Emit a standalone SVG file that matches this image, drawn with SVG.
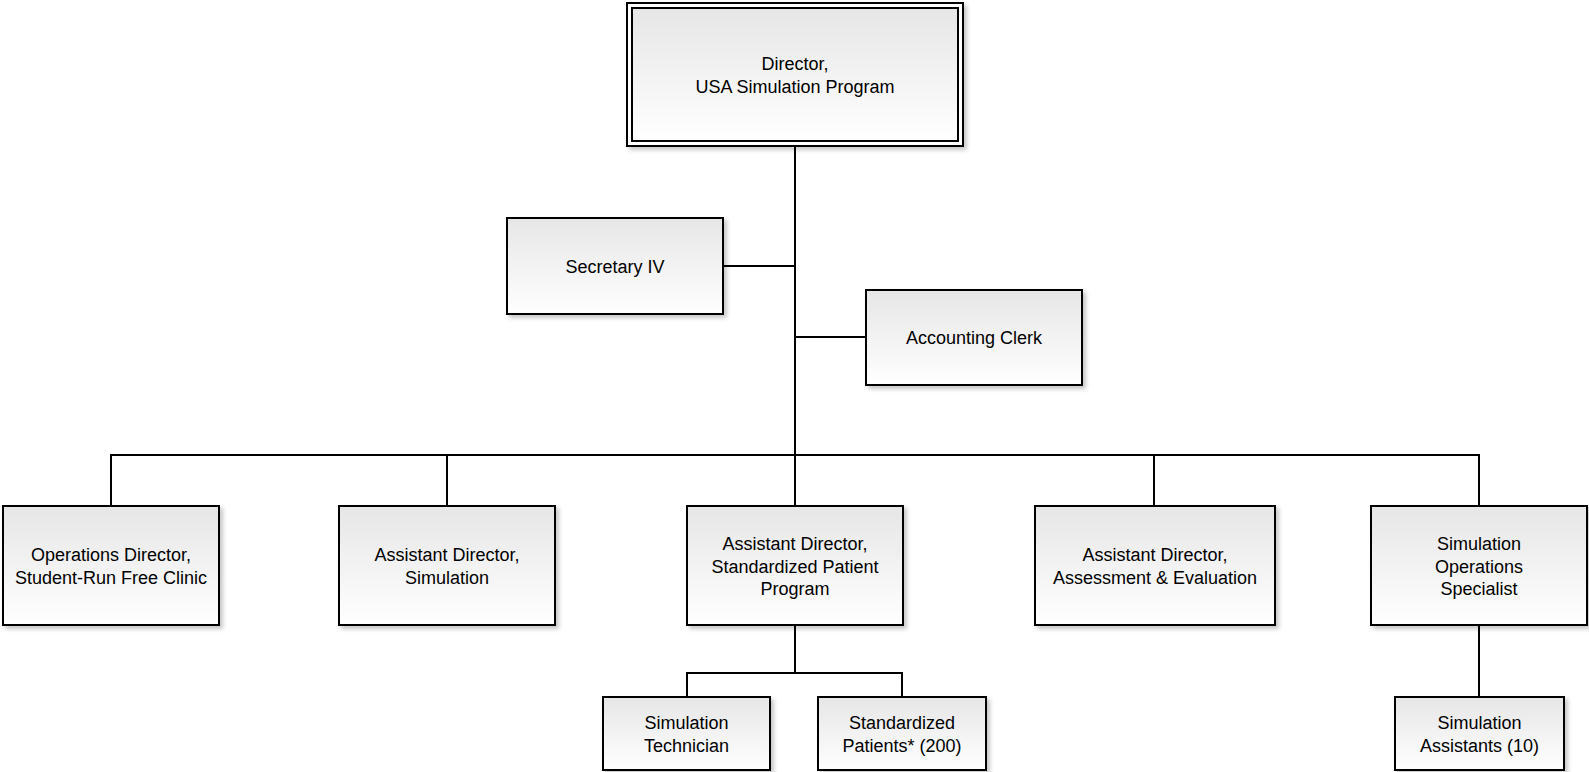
<svg xmlns="http://www.w3.org/2000/svg" width="1589" height="772" viewBox="0 0 1589 772">
<defs>
<linearGradient id="g" x1="0" y1="0" x2="0" y2="1">
<stop offset="0" stop-color="#e6e6e6"/>
<stop offset="1" stop-color="#ffffff"/>
</linearGradient>
<filter id="sh" x="-10%" y="-10%" width="125%" height="130%">
<feDropShadow dx="3" dy="3" stdDeviation="2" flood-color="#000" flood-opacity="0.22"/>
</filter>
</defs>
<style>
.box{fill:url(#g);stroke:#000;stroke-width:2}
.outer{fill:#fff;stroke:#000;stroke-width:2}
.t{font-family:"Liberation Sans",Arial,sans-serif;font-size:18px;fill:#000;text-anchor:middle}
.c{fill:none;stroke:#000;stroke-width:2}
</style>
<rect width="1589" height="772" fill="#fff"/>
<g id="connectors">
<path class="c" d="M795 146V455"/>
<path class="c" d="M723 266H795"/>
<path class="c" d="M795 337H866"/>
<path class="c" d="M111 506V455H1479V506"/>
<path class="c" d="M447 455V506"/>
<path class="c" d="M795 455V506"/>
<path class="c" d="M1154 455V506"/>
<path class="c" d="M795 625V673"/>
<path class="c" d="M687 697V673H902V697"/>
<path class="c" d="M1479 625V697"/>
</g>
<g id="director">
<rect class="outer" x="627" y="3" width="336" height="143" filter="url(#sh)"/>
<rect class="box" x="632" y="8" width="326" height="133"/>
<text class="t" x="795" y="69.5">Director,</text>
<text class="t" x="795" y="92.5">USA Simulation Program</text>
</g>
<g id="secretary">
<rect class="box" x="507" y="218" width="216" height="96" filter="url(#sh)"/>
<text class="t" x="615" y="272.5">Secretary IV</text>
</g>
<g id="accounting">
<rect class="box" x="866" y="290" width="216" height="95" filter="url(#sh)"/>
<text class="t" x="974" y="344">Accounting Clerk</text>
</g>
<g id="ops-director">
<rect class="box" x="3" y="506" width="216" height="119" filter="url(#sh)"/>
<text class="t" x="111" y="561">Operations Director,</text>
<text class="t" x="111" y="584">Student-Run Free Clinic</text>
</g>
<g id="ad-simulation">
<rect class="box" x="339" y="506" width="216" height="119" filter="url(#sh)"/>
<text class="t" x="447" y="561">Assistant Director,</text>
<text class="t" x="447" y="584">Simulation</text>
</g>
<g id="ad-sp">
<rect class="box" x="687" y="506" width="216" height="119" filter="url(#sh)"/>
<text class="t" x="795" y="550">Assistant Director,</text>
<text class="t" x="795" y="572.5">Standardized Patient</text>
<text class="t" x="795" y="595">Program</text>
</g>
<g id="ad-assessment">
<rect class="box" x="1035" y="506" width="240" height="119" filter="url(#sh)"/>
<text class="t" x="1155" y="561">Assistant Director,</text>
<text class="t" x="1155" y="584">Assessment &amp; Evaluation</text>
</g>
<g id="sim-ops">
<rect class="box" x="1371" y="506" width="216" height="119" filter="url(#sh)"/>
<text class="t" x="1479" y="550">Simulation</text>
<text class="t" x="1479" y="572.5">Operations</text>
<text class="t" x="1479" y="595">Specialist</text>
</g>
<g id="sim-tech">
<rect class="box" x="603" y="697" width="167" height="73" filter="url(#sh)"/>
<text class="t" x="686.5" y="728.5">Simulation</text>
<text class="t" x="686.5" y="751.5">Technician</text>
</g>
<g id="sp">
<rect class="box" x="818" y="697" width="168" height="73" filter="url(#sh)"/>
<text class="t" x="902" y="728.5">Standardized</text>
<text class="t" x="902" y="751.5">Patients* (200)</text>
</g>
<g id="sim-assistants">
<rect class="box" x="1395" y="697" width="169" height="73" filter="url(#sh)"/>
<text class="t" x="1479.5" y="728.5">Simulation</text>
<text class="t" x="1479.5" y="751.5">Assistants (10)</text>
</g>
</svg>
